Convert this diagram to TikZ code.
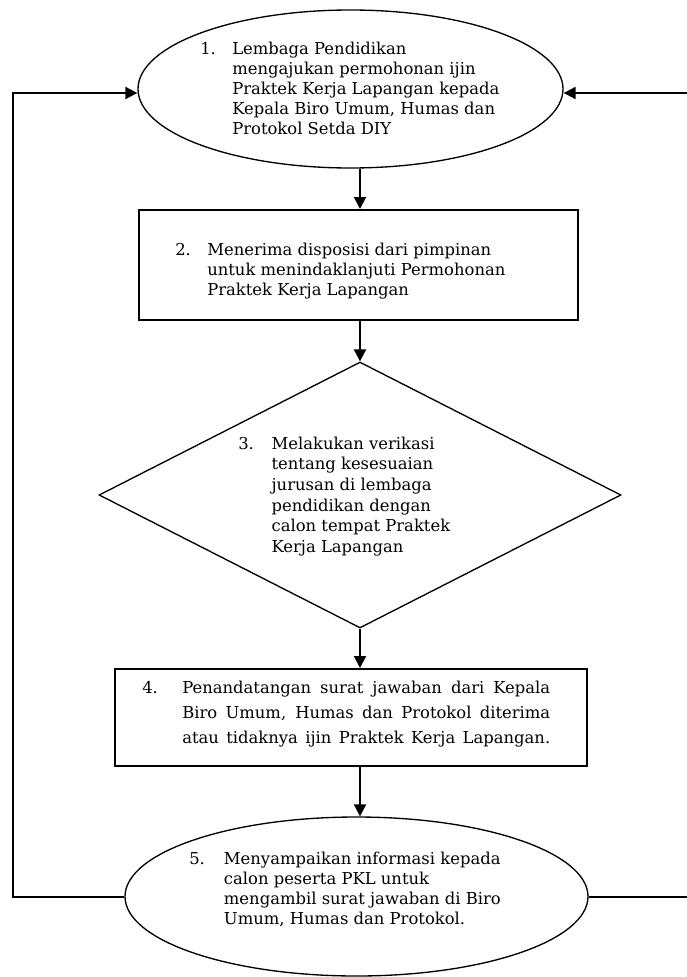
\documentclass[tikz,border=0pt]{standalone}
\usepackage{fontspec}
\setmainfont{DejaVu Serif}
\usepackage{tikz}
\usetikzlibrary{arrows.meta}
\usetikzlibrary{shapes.geometric}
\usetikzlibrary{calc}

\newcommand{\steptext}[3]{\begin{tabular}[t]{@{}p{#1}@{}l@{}}#2 & #3\end{tabular}}

\begin{document}
\begin{tikzpicture}[x=0.75pt,y=-0.75pt,
			txt/.style={inner sep=0pt, anchor=base west, font=\fontsize{12.3}{15}\selectfont},
			oval/.style={ellipse, draw, line width=1pt, inner sep=0pt},
			box/.style={rectangle, draw, line width=1.5pt, inner sep=0pt},
			choice/.style={diamond, draw, line width=1pt, inner sep=0pt, aspect=1.96},
			flow/.style={line width=1.5pt, -{Triangle[length=9pt,width=9pt]}},
			link/.style={line width=1.5pt}]
			\useasboundingbox (0,0) rectangle (686,977);
			
			% shapes
			\node[oval, minimum width=318.75pt, minimum height=118.5pt] (e1) at (350.5,89) {};
			\node[box, minimum width=329.25pt, minimum height=82.5pt] (r2) at (358.5,265) {};
			\node[choice, minimum width=391.5pt, minimum height=199.5pt] (d3) at (360,495) {};
			\node[box, minimum width=354pt, minimum height=72.75pt] (r4) at (351,717.5) {};
			\node[oval, minimum width=347.25pt, minimum height=119.25pt] (e5) at (356.5,896.5) {};
			
			% texts
			\node[txt] (t1) at (200,55) {\steptext{24pt}{1.}{Lembaga Pendidikan\\ & mengajukan permohonan ijin\\ & Praktek Kerja Lapangan kepada\\ & Kepala Biro Umum, Humas dan\\ & Protokol Setda DIY}};
			\node[txt] (t2) at (175,255) {\steptext{24pt}{2.}{Menerima disposisi dari pimpinan\\ & untuk menindaklanjuti Permohonan\\ & Praktek Kerja Lapangan}};
			\node[txt, font=\fontsize{12.3}{15.5}\selectfont] (t3) at (238,449) {\steptext{25pt}{3.}{Melakukan verikasi\\ & tentang kesesuaian\\ & jurusan di lembaga\\ & pendidikan dengan\\ & calon tempat Praktek\\ & Kerja Lapangan}};
			\node[txt] (n4) at (142,693) {4.};
			\node[txt, font=\fontsize{12.3}{18.75}\selectfont] (t4) at (182,693) {\parbox[t]{276pt}{\parfillskip=0pt Penandatangan surat jawaban dari Kepala\linebreak Biro Umum, Humas dan Protokol diterima\linebreak atau tidaknya ijin Praktek Kerja Lapangan.}};
			\node[txt] (t5) at (189,864) {\steptext{26pt}{5.}{Menyampaikan informasi kepada\\ & calon peserta PKL untuk\\ & mengambil surat jawaban di Biro\\ & Umum, Humas dan Protokol.}};
			
			% connectors
			\coordinate (ax) at (360,0);
			\coordinate (lft) at (13,500);
			\coordinate (rgt) at (690,500);
			\draw[flow] (e1.south -| ax) -- (r2.north -| ax);
			\draw[flow] (r2.south -| ax) -- (d3.north);
			\draw[flow] (d3.south) -- (r4.north -| ax);
			\draw[flow] (r4.south -| ax) -- (e5.north -| ax);
			\draw[flow] (e5.west) -| (lft) |- ([yshift=-3pt]e1.west);
			\draw[flow] (e5.east) -| (rgt) |- ([yshift=-3pt]e1.east);
		\end{tikzpicture}
\end{document}
